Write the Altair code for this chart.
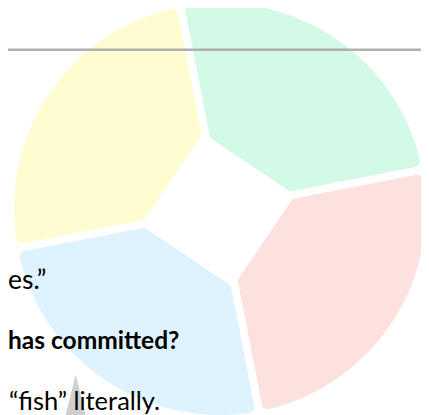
import math
import altair as alt
import pandas as pd

# Pie slices (clockwise from the top gap)
slices = ["green", "red", "blue", "yellow"]
values = [1, 1, 1, 1]
colors = ["#D2FAE6", "#FDE1DE", "#DEF3FD", "#FFFDD0"]

# Text fragments visible at the left
text_plain = ["es.\u201d", "\u201cfish\u201d literally."]
text_bold = ["has committed?"]

W, H = 421, 407
CX, CY = 216, 201

pie_df = pd.DataFrame({"slice": slices, "value": values, "order": list(range(len(slices)))})

start = 2 * math.pi + math.radians(-11)

pie = alt.Chart(pie_df).mark_arc(
    innerRadius=50, outerRadius=210, padAngle=0.037, cornerRadius=6
).encode(
    theta=alt.Theta("value:Q", stack=True, scale=alt.Scale(range=[start, start + 2 * math.pi])),
    color=alt.Color("slice:N", scale=alt.Scale(domain=slices, range=colors), legend=None),
    order=alt.Order("order:Q"),
    x=alt.value(CX),
    y=alt.value(CY),
)

one = pd.DataFrame({"k": [0]})

hole = alt.Chart(one).mark_point(
    shape="square", filled=True, color="white", opacity=1, size=12800, angle=304, strokeWidth=0
).encode(x=alt.value(CX - 2), y=alt.value(CY + 1))

rule = alt.Chart(one).mark_rule(color="#b0b0b0", strokeWidth=2.5).encode(
    x=alt.value(0), x2=alt.value(W), y=alt.value(38.7)
)

tri = alt.Chart(one).mark_point(
    shape="M0,-1L0.5,1L-0.5,1Z", filled=True, color="#cfcfcf", opacity=1, size=1764, strokeWidth=0
).encode(x=alt.value(69), y=alt.value(391))


def txt(s, x, y, bold=False, align="left", size=27, font="Lato"):
    return alt.Chart(pd.DataFrame({"t": [s]})).mark_text(
        align=align, baseline="alphabetic", font=font, fontSize=size,
        fontWeight="bold" if bold else "normal", color="#000000"
    ).encode(text="t:N", x=alt.value(x), y=alt.value(y))


t1 = txt(text_plain[0], 0, 282)
t2 = txt(text_bold[0], 0, 344, bold=True, size=25)
t3 = txt(text_plain[1], 1, 406, size=26)

chart = alt.layer(pie, hole, rule, tri, t1, t2, t3).properties(
    width=W, height=H, padding=0, autosize=alt.AutoSizeParams(type="none")
).configure_view(stroke=None)

chart.save("out.html", embed_options={"renderer": "svg", "actions": False})
